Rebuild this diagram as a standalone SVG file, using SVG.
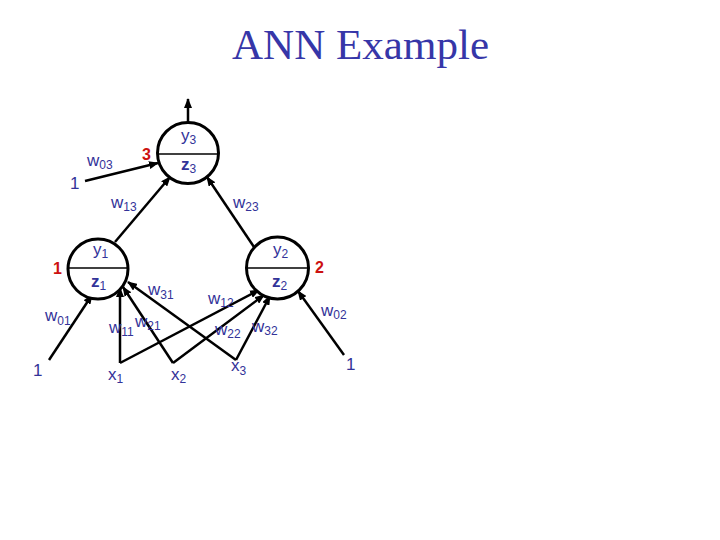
<svg xmlns="http://www.w3.org/2000/svg" width="720" height="540" viewBox="0 0 720 540">
<style>
.t{font-family:"Liberation Sans",Arial,sans-serif;font-size:17px;fill:#333399}
.s{font-size:12px}
.r{font-family:"Liberation Sans",Arial,sans-serif;font-size:16px;fill:#cc1111;font-weight:bold}
.z{font-weight:bold}
.node circle{fill:#fff;stroke:#000;stroke-width:3}
.node line{stroke:#000;stroke-width:1.5}
.c line{stroke:#000;stroke-width:2.5;marker-end:url(#ah)}
</style>
<defs>
<marker id="ah" markerUnits="userSpaceOnUse" markerWidth="10" markerHeight="8" refX="9" refY="4" orient="auto">
<path d="M0,0 L10,4 L0,8 z" fill="#000"/>
</marker>
</defs>
<rect width="720" height="540" fill="#fff"/>
<text x="232" y="59" font-family="Liberation Serif,Times New Roman,serif" font-size="42" fill="#3636a8" textLength="257" lengthAdjust="spacingAndGlyphs">ANN Example</text>
<g class="c" id="connectors">
<line x1="188" y1="122" x2="188" y2="99"/>
<line x1="85" y1="181" x2="158" y2="163"/>
<line x1="115" y1="242" x2="170" y2="177"/>
<line x1="254" y1="247" x2="207" y2="177"/>
<line x1="49" y1="360" x2="92" y2="295"/>
<line x1="120" y1="363" x2="120" y2="288"/>
<line x1="173" y1="363" x2="123" y2="287"/>
<line x1="236" y1="360" x2="128" y2="282"/>
<line x1="120" y1="363" x2="259" y2="290"/>
<line x1="173" y1="363" x2="264" y2="295"/>
<line x1="236" y1="360" x2="270" y2="296"/>
<line x1="344" y1="355" x2="298" y2="291"/>
</g>
<g class="node" id="node3">
<circle cx="188" cy="153" r="30.5"/>
<line x1="157.5" y1="154" x2="218.5" y2="154"/>
<text class="t" x="181" y="141">y<tspan class="s" dy="3">3</tspan></text>
<text class="t" x="181" y="170"><tspan class="z">z</tspan><tspan class="s" dy="3">3</tspan></text>
</g>
<g class="node" id="node1">
<circle cx="98" cy="269" r="30"/>
<line x1="68" y1="268" x2="128" y2="268"/>
<text class="t" x="93" y="255">y<tspan class="s" dy="3">1</tspan></text>
<text class="t" x="91" y="287"><tspan class="z">z</tspan><tspan class="s" dy="3">1</tspan></text>
</g>
<g class="node" id="node2">
<circle cx="277.5" cy="268" r="31"/>
<line x1="246.5" y1="268" x2="308.5" y2="268"/>
<text class="t" x="273" y="255">y<tspan class="s" dy="3">2</tspan></text>
<text class="t" x="272" y="287"><tspan class="z">z</tspan><tspan class="s" dy="3">2</tspan></text>
</g>
<g id="labels">
<text class="r" x="142" y="160">3</text>
<text class="r" x="53" y="274">1</text>
<text class="r" x="315" y="273">2</text>
<text class="t" x="70" y="189">1</text>
<text class="t" x="33" y="376">1</text>
<text class="t" x="346" y="370">1</text>
<text class="t" x="87" y="166">w<tspan class="s" dy="3">03</tspan></text>
<text class="t" x="111" y="208">w<tspan class="s" dy="3">13</tspan></text>
<text class="t" x="233" y="208">w<tspan class="s" dy="3">23</tspan></text>
<text class="t" x="148" y="295">w<tspan class="s" dy="4">31</tspan></text>
<text class="t" x="45" y="321">w<tspan class="s" dy="4">01</tspan></text>
<text class="t" x="109" y="333">w<tspan class="s" dy="3">11</tspan></text>
<text class="t" x="135" y="327">w<tspan class="s" dy="3">21</tspan></text>
<text class="t" x="208" y="304">w<tspan class="s" dy="3">12</tspan></text>
<text class="t" x="215" y="335">w<tspan class="s" dy="3">22</tspan></text>
<text class="t" x="252" y="332">w<tspan class="s" dy="3">32</tspan></text>
<text class="t" x="321" y="316">w<tspan class="s" dy="3">02</tspan></text>
<text class="t" x="108" y="380">x<tspan class="s" dy="3">1</tspan></text>
<text class="t" x="171" y="380">x<tspan class="s" dy="3">2</tspan></text>
<text class="t" x="231" y="371">x<tspan class="s" dy="4">3</tspan></text>
</g>
</svg>
